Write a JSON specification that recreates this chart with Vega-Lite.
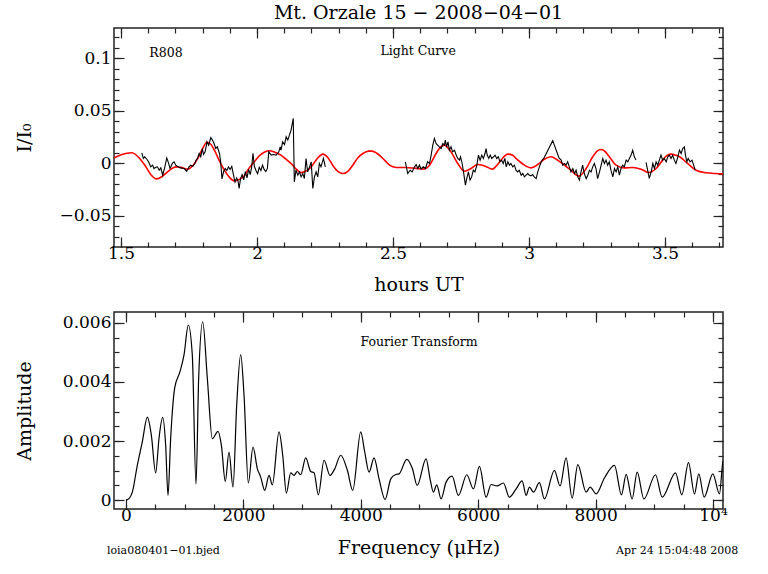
{
  "$schema": "https://vega.github.io/schema/vega-lite/v6.json",
  "padding": {"left": 14, "top": 3, "right": 10, "bottom": 10},
  "bounds": "flush",
  "spacing": 65,
  "config": {
    "font": "DejaVu Serif",
    "axis": {"labelFont": "DejaVu Serif", "labelFontSize": 17, "labelColor": "#000", "titleFont": "DejaVu Serif", "titleFontSize": 19, "titleFontWeight": "normal", "titleColor": "#000", "tickColor": "#222", "tickWidth": 1.2, "domain": false, "grid": false, "labelFlush": false, "labelOverlap": false},
    "view": {"stroke": "#222", "strokeWidth": 1.5},
    "text": {"font": "DejaVu Serif", "fontSize": 12.5, "color": "#000"}
  },
  "datasets": {
    "fit": [
      {"h":1.474,"v":0.0050},{"h":1.500,"v":0.0080},{"h":1.540,"v":0.0100},{"h":1.570,"v":0.0040},{"h":1.590,"v":-0.0030},{"h":1.610,"v":-0.0110},{"h":1.630,"v":-0.0150},{"h":1.650,"v":-0.0130},{"h":1.672,"v":-0.0080},{"h":1.702,"v":-0.0035},{"h":1.720,"v":-0.0040},{"h":1.745,"v":-0.0058},{"h":1.765,"v":-0.0020},{"h":1.782,"v":0.0045},{"h":1.800,"v":0.0140},{"h":1.815,"v":0.0200},{"h":1.830,"v":0.0180},{"h":1.843,"v":0.0124},{"h":1.862,"v":0.0020},{"h":1.880,"v":-0.0067},{"h":1.900,"v":-0.0140},{"h":1.917,"v":-0.0169},{"h":1.935,"v":-0.0155},{"h":1.953,"v":-0.0120},{"h":1.970,"v":-0.0050},{"h":1.990,"v":0.0013},{"h":2.010,"v":0.0075},{"h":2.030,"v":0.0110},{"h":2.045,"v":0.0118},{"h":2.065,"v":0.0105},{"h":2.088,"v":0.0076},{"h":2.105,"v":0.0040},{"h":2.125,"v":-0.0003},{"h":2.145,"v":-0.0060},{"h":2.162,"v":-0.0090},{"h":2.180,"v":-0.0075},{"h":2.199,"v":-0.0035},{"h":2.220,"v":0.0040},{"h":2.242,"v":0.0086},{"h":2.260,"v":0.0055},{"h":2.278,"v":-0.0019},{"h":2.298,"v":-0.0080},{"h":2.315,"v":-0.0099},{"h":2.335,"v":-0.0075},{"h":2.352,"v":-0.0019},{"h":2.370,"v":0.0050},{"h":2.389,"v":0.0092},{"h":2.410,"v":0.0115},{"h":2.423,"v":0.0115},{"h":2.440,"v":0.0095},{"h":2.456,"v":0.0061},{"h":2.472,"v":0.0020},{"h":2.487,"v":-0.0019},{"h":2.511,"v":-0.0041},{"h":2.548,"v":-0.0041},{"h":2.585,"v":-0.0050},{"h":2.615,"v":-0.0055},{"h":2.634,"v":-0.0019},{"h":2.658,"v":0.0092},{"h":2.675,"v":0.0155},{"h":2.689,"v":0.0172},{"h":2.700,"v":0.0150},{"h":2.713,"v":0.0108},{"h":2.738,"v":-0.0003},{"h":2.762,"v":-0.0077},{"h":2.787,"v":-0.0051},{"h":2.811,"v":-0.0013},{"h":2.836,"v":-0.0026},{"h":2.866,"v":-0.0057},{"h":2.885,"v":-0.0010},{"h":2.897,"v":0.0029},{"h":2.922,"v":0.0086},{"h":2.940,"v":0.0075},{"h":2.952,"v":0.0045},{"h":2.983,"v":-0.0019},{"h":3.007,"v":-0.0045},{"h":3.032,"v":-0.0013},{"h":3.056,"v":0.0038},{"h":3.081,"v":0.0061},{"h":3.105,"v":0.0029},{"h":3.130,"v":-0.0019},{"h":3.154,"v":-0.0067},{"h":3.183,"v":-0.0124},{"h":3.210,"v":-0.0051},{"h":3.234,"v":0.0061},{"h":3.250,"v":0.0115},{"h":3.265,"v":0.0131},{"h":3.280,"v":0.0110},{"h":3.295,"v":0.0061},{"h":3.320,"v":-0.0019},{"h":3.350,"v":-0.0045},{"h":3.381,"v":-0.0041},{"h":3.412,"v":-0.0057},{"h":3.440,"v":-0.0089},{"h":3.467,"v":-0.0051},{"h":3.491,"v":0.0029},{"h":3.505,"v":0.0070},{"h":3.522,"v":0.0086},{"h":3.540,"v":0.0075},{"h":3.553,"v":0.0061},{"h":3.583,"v":-0.0003},{"h":3.614,"v":-0.0067},{"h":3.651,"v":-0.0092},{"h":3.687,"v":-0.0099},{"h":3.713,"v":-0.0102}
    ],
    "lc": [
      {"seg":1,"h":1.576,"v":0.0099},{"seg":1,"h":1.582,"v":0.0045},{"seg":1,"h":1.587,"v":0.0061},{"seg":1,"h":1.594,"v":0.0040},{"seg":1,"h":1.601,"v":0.0013},{"seg":1,"h":1.609,"v":-0.0035},{"seg":1,"h":1.616,"v":-0.0019},{"seg":1,"h":1.621,"v":-0.0051},{"seg":1,"h":1.626,"v":-0.0041},{"seg":1,"h":1.634,"v":-0.0035},{"seg":1,"h":1.640,"v":-0.0067},{"seg":1,"h":1.646,"v":-0.0045},{"seg":1,"h":1.653,"v":-0.0115},{"seg":1,"h":1.661,"v":-0.0035},{"seg":1,"h":1.668,"v":0.0050},{"seg":1,"h":1.674,"v":0.0006},{"seg":1,"h":1.680,"v":-0.0051},{"seg":1,"h":1.689,"v":0.0000},{"seg":1,"h":1.695,"v":0.0013},{"seg":1,"h":1.701,"v":-0.0019},{"seg":1,"h":1.710,"v":-0.0035},{"seg":1,"h":1.719,"v":-0.0045},{"seg":1,"h":1.732,"v":-0.0051},{"seg":1,"h":1.741,"v":-0.0077},{"seg":1,"h":1.750,"v":-0.0035},{"seg":1,"h":1.756,"v":-0.0019},{"seg":1,"h":1.764,"v":-0.0029},{"seg":1,"h":1.771,"v":-0.0003},{"seg":1,"h":1.776,"v":0.0029},{"seg":1,"h":1.781,"v":0.0045},{"seg":1,"h":1.787,"v":0.0092},{"seg":1,"h":1.793,"v":0.0061},{"seg":1,"h":1.799,"v":0.0140},{"seg":1,"h":1.803,"v":0.0083},{"seg":1,"h":1.809,"v":0.0108},{"seg":1,"h":1.816,"v":0.0204},{"seg":1,"h":1.822,"v":0.0172},{"seg":1,"h":1.830,"v":0.0245},{"seg":1,"h":1.836,"v":0.0220},{"seg":1,"h":1.842,"v":0.0188},{"seg":1,"h":1.848,"v":0.0140},{"seg":1,"h":1.854,"v":0.0156},{"seg":1,"h":1.862,"v":0.0092},{"seg":1,"h":1.866,"v":0.0013},{"seg":1,"h":1.871,"v":-0.0150},{"seg":1,"h":1.877,"v":-0.0080},{"seg":1,"h":1.883,"v":-0.0050},{"seg":1,"h":1.889,"v":-0.0070},{"seg":1,"h":1.895,"v":-0.0035},{"seg":1,"h":1.901,"v":-0.0060},{"seg":1,"h":1.907,"v":-0.0030},{"seg":1,"h":1.913,"v":-0.0110},{"seg":1,"h":1.919,"v":-0.0180},{"seg":1,"h":1.925,"v":-0.0140},{"seg":1,"h":1.930,"v":-0.0170},{"seg":1,"h":1.934,"v":-0.0240},{"seg":1,"h":1.939,"v":-0.0150},{"seg":1,"h":1.945,"v":-0.0110},{"seg":1,"h":1.951,"v":-0.0160},{"seg":1,"h":1.957,"v":-0.0080},{"seg":1,"h":1.963,"v":-0.0140},{"seg":1,"h":1.969,"v":-0.0060},{"seg":1,"h":1.975,"v":-0.0110},{"seg":1,"h":1.980,"v":-0.0040},{"seg":1,"h":1.985,"v":0.0095},{"seg":1,"h":1.990,"v":-0.0030},{"seg":1,"h":1.996,"v":-0.0070},{"seg":1,"h":2.002,"v":-0.0100},{"seg":1,"h":2.008,"v":-0.0040},{"seg":1,"h":2.014,"v":-0.0070},{"seg":1,"h":2.020,"v":-0.0020},{"seg":1,"h":2.026,"v":-0.0060},{"seg":1,"h":2.032,"v":-0.0080},{"seg":1,"h":2.038,"v":-0.0050},{"seg":1,"h":2.043,"v":0.0108},{"seg":1,"h":2.052,"v":0.0077},{"seg":1,"h":2.060,"v":0.0083},{"seg":1,"h":2.070,"v":0.0077},{"seg":1,"h":2.080,"v":0.0108},{"seg":1,"h":2.085,"v":0.0156},{"seg":1,"h":2.088,"v":0.0124},{"seg":1,"h":2.094,"v":0.0204},{"seg":1,"h":2.101,"v":0.0178},{"seg":1,"h":2.107,"v":0.0252},{"seg":1,"h":2.113,"v":0.0220},{"seg":1,"h":2.119,"v":0.0268},{"seg":1,"h":2.125,"v":0.0316},{"seg":1,"h":2.133,"v":0.0427},{"seg":1,"h":2.137,"v":-0.0178},{"seg":1,"h":2.143,"v":-0.0067},{"seg":1,"h":2.150,"v":-0.0115},{"seg":1,"h":2.156,"v":-0.0083},{"seg":1,"h":2.162,"v":-0.0131},{"seg":1,"h":2.168,"v":-0.0099},{"seg":1,"h":2.174,"v":-0.0147},{"seg":1,"h":2.180,"v":0.0045},{"seg":1,"h":2.186,"v":-0.0083},{"seg":1,"h":2.193,"v":-0.0035},{"seg":1,"h":2.199,"v":0.0013},{"seg":1,"h":2.205,"v":-0.0242},{"seg":1,"h":2.211,"v":-0.0131},{"seg":1,"h":2.217,"v":-0.0083},{"seg":1,"h":2.223,"v":-0.0131},{"seg":1,"h":2.229,"v":-0.0003},{"seg":1,"h":2.235,"v":-0.0035},{"seg":1,"h":2.244,"v":0.0045},{"seg":1,"h":2.251,"v":-0.0035},
      {"seg":2,"h":2.545,"v":0.0013},{"seg":2,"h":2.554,"v":-0.0099},{"seg":2,"h":2.563,"v":-0.0067},{"seg":2,"h":2.570,"v":-0.0083},{"seg":2,"h":2.579,"v":-0.0035},{"seg":2,"h":2.585,"v":-0.0013},{"seg":2,"h":2.591,"v":-0.0051},{"seg":2,"h":2.597,"v":-0.0019},{"seg":2,"h":2.603,"v":-0.0055},{"seg":2,"h":2.611,"v":-0.0035},{"seg":2,"h":2.619,"v":-0.0051},{"seg":2,"h":2.627,"v":0.0013},{"seg":2,"h":2.634,"v":-0.0003},{"seg":2,"h":2.640,"v":0.0077},{"seg":2,"h":2.646,"v":0.0172},{"seg":2,"h":2.652,"v":0.0236},{"seg":2,"h":2.658,"v":0.0188},{"seg":2,"h":2.664,"v":0.0172},{"seg":2,"h":2.670,"v":0.0156},{"seg":2,"h":2.677,"v":0.0140},{"seg":2,"h":2.683,"v":0.0188},{"seg":2,"h":2.689,"v":0.0172},{"seg":2,"h":2.692,"v":0.0220},{"seg":2,"h":2.697,"v":0.0156},{"seg":2,"h":2.702,"v":0.0204},{"seg":2,"h":2.707,"v":0.0124},{"seg":2,"h":2.713,"v":0.0156},{"seg":2,"h":2.719,"v":0.0108},{"seg":2,"h":2.726,"v":0.0124},{"seg":2,"h":2.732,"v":0.0077},{"seg":2,"h":2.738,"v":0.0045},{"seg":2,"h":2.744,"v":0.0029},{"seg":2,"h":2.748,"v":0.0061},{"seg":2,"h":2.754,"v":-0.0003},{"seg":2,"h":2.759,"v":-0.0083},{"seg":2,"h":2.766,"v":-0.0210},{"seg":2,"h":2.771,"v":-0.0146},{"seg":2,"h":2.777,"v":-0.0083},{"seg":2,"h":2.783,"v":-0.0162},{"seg":2,"h":2.789,"v":-0.0131},{"seg":2,"h":2.795,"v":-0.0067},{"seg":2,"h":2.801,"v":-0.0083},{"seg":2,"h":2.808,"v":-0.0019},{"seg":2,"h":2.814,"v":0.0077},{"seg":2,"h":2.820,"v":0.0029},{"seg":2,"h":2.826,"v":0.0077},{"seg":2,"h":2.832,"v":0.0045},{"seg":2,"h":2.838,"v":0.0092},{"seg":2,"h":2.842,"v":0.0140},{"seg":2,"h":2.846,"v":0.0077},{"seg":2,"h":2.852,"v":0.0045},{"seg":2,"h":2.857,"v":0.0077},{"seg":2,"h":2.863,"v":0.0045},{"seg":2,"h":2.869,"v":0.0061},{"seg":2,"h":2.875,"v":0.0077},{"seg":2,"h":2.881,"v":0.0045},{"seg":2,"h":2.887,"v":0.0061},{"seg":2,"h":2.893,"v":0.0013},{"seg":2,"h":2.899,"v":0.0029},{"seg":2,"h":2.905,"v":-0.0003},{"seg":2,"h":2.911,"v":0.0045},{"seg":2,"h":2.916,"v":-0.0035},{"seg":2,"h":2.922,"v":0.0013},{"seg":2,"h":2.928,"v":-0.0019},{"seg":2,"h":2.933,"v":-0.0003},{"seg":2,"h":2.940,"v":-0.0035},{"seg":2,"h":2.946,"v":-0.0019},{"seg":2,"h":2.952,"v":-0.0067},{"seg":2,"h":2.958,"v":-0.0083},{"seg":2,"h":2.964,"v":-0.0067},{"seg":2,"h":2.971,"v":-0.0115},{"seg":2,"h":2.977,"v":-0.0099},{"seg":2,"h":2.983,"v":-0.0131},{"seg":2,"h":2.989,"v":-0.0115},{"seg":2,"h":2.995,"v":-0.0099},{"seg":2,"h":3.001,"v":-0.0115},{"seg":2,"h":3.007,"v":-0.0121},{"seg":2,"h":3.013,"v":-0.0108},{"seg":2,"h":3.019,"v":-0.0131},{"seg":2,"h":3.026,"v":-0.0147},{"seg":2,"h":3.032,"v":-0.0083},{"seg":2,"h":3.040,"v":-0.0019},{"seg":2,"h":3.048,"v":0.0029},{"seg":2,"h":3.054,"v":0.0045},{"seg":2,"h":3.087,"v":0.0215},{"seg":2,"h":3.110,"v":0.0050},{"seg":2,"h":3.118,"v":0.0029},{"seg":2,"h":3.124,"v":-0.0019},{"seg":2,"h":3.130,"v":-0.0003},{"seg":2,"h":3.136,"v":-0.0019},{"seg":2,"h":3.142,"v":0.0013},{"seg":2,"h":3.148,"v":-0.0035},{"seg":2,"h":3.154,"v":-0.0083},{"seg":2,"h":3.161,"v":-0.0051},{"seg":2,"h":3.167,"v":-0.0099},{"seg":2,"h":3.173,"v":-0.0067},{"seg":2,"h":3.179,"v":-0.0131},{"seg":2,"h":3.185,"v":-0.0162},{"seg":2,"h":3.191,"v":-0.0083},{"seg":2,"h":3.197,"v":-0.0019},{"seg":2,"h":3.203,"v":-0.0099},{"seg":2,"h":3.210,"v":-0.0147},{"seg":2,"h":3.216,"v":-0.0115},{"seg":2,"h":3.222,"v":-0.0067},{"seg":2,"h":3.228,"v":-0.0083},{"seg":2,"h":3.234,"v":-0.0035},{"seg":2,"h":3.240,"v":-0.0003},{"seg":2,"h":3.246,"v":-0.0051},{"seg":2,"h":3.252,"v":-0.0147},{"seg":2,"h":3.259,"v":-0.0083},{"seg":2,"h":3.265,"v":-0.0019},{"seg":2,"h":3.271,"v":0.0045},{"seg":2,"h":3.277,"v":-0.0003},{"seg":2,"h":3.283,"v":0.0029},{"seg":2,"h":3.289,"v":-0.0019},{"seg":2,"h":3.295,"v":0.0013},{"seg":2,"h":3.301,"v":-0.0067},{"seg":2,"h":3.308,"v":-0.0131},{"seg":2,"h":3.314,"v":-0.0051},{"seg":2,"h":3.320,"v":-0.0083},{"seg":2,"h":3.326,"v":-0.0035},{"seg":2,"h":3.332,"v":-0.0115},{"seg":2,"h":3.338,"v":-0.0051},{"seg":2,"h":3.344,"v":-0.0019},{"seg":2,"h":3.350,"v":-0.0035},{"seg":2,"h":3.357,"v":0.0029},{"seg":2,"h":3.363,"v":0.0013},{"seg":2,"h":3.369,"v":0.0045},{"seg":2,"h":3.375,"v":0.0077},{"seg":2,"h":3.381,"v":0.0124},{"seg":2,"h":3.387,"v":0.0061},{"seg":2,"h":3.393,"v":0.0029},
      {"seg":3,"h":3.430,"v":0.0007},{"seg":3,"h":3.436,"v":-0.0067},{"seg":3,"h":3.442,"v":-0.0146},{"seg":3,"h":3.449,"v":-0.0083},{"seg":3,"h":3.455,"v":-0.0003},{"seg":3,"h":3.461,"v":-0.0051},{"seg":3,"h":3.467,"v":0.0013},{"seg":3,"h":3.473,"v":-0.0019},{"seg":3,"h":3.479,"v":0.0029},{"seg":3,"h":3.485,"v":0.0077},{"seg":3,"h":3.491,"v":0.0029},{"seg":3,"h":3.497,"v":0.0045},{"seg":3,"h":3.504,"v":0.0013},{"seg":3,"h":3.510,"v":0.0061},{"seg":3,"h":3.516,"v":0.0077},{"seg":3,"h":3.522,"v":0.0045},{"seg":3,"h":3.528,"v":0.0077},{"seg":3,"h":3.534,"v":0.0029},{"seg":3,"h":3.540,"v":-0.0003},{"seg":3,"h":3.547,"v":0.0061},{"seg":3,"h":3.553,"v":0.0124},{"seg":3,"h":3.559,"v":0.0092},{"seg":3,"h":3.565,"v":0.0140},{"seg":3,"h":3.571,"v":0.0156},{"seg":3,"h":3.575,"v":0.0077},{"seg":3,"h":3.580,"v":0.0013},{"seg":3,"h":3.585,"v":0.0045},{"seg":3,"h":3.592,"v":0.0013},{"seg":3,"h":3.599,"v":0.0029},{"seg":3,"h":3.605,"v":-0.0019},{"seg":3,"h":3.611,"v":-0.0067}
    ],
    "ft": [
      {"f":0,"a":0.0},{"f":51,"a":0.00005},{"f":108,"a":0.00027},{"f":193,"a":0.00118},{"f":278,"a":0.00197},{"f":364,"a":0.00281},{"f":432,"a":0.0022},{"f":506,"a":0.00092},{"f":562,"a":0.00208},{"f":625,"a":0.0028},{"f":676,"a":0.00186},{"f":716,"a":0.00016},{"f":761,"a":0.00208},{"f":830,"a":0.0038},{"f":920,"a":0.00435},{"f":988,"a":0.00491},{"f":1062,"a":0.00593},{"f":1130,"a":0.00491},{"f":1193,"a":0.00055},{"f":1238,"a":0.00412},{"f":1307,"a":0.00604},{"f":1386,"a":0.00412},{"f":1471,"a":0.00208},{"f":1568,"a":0.00233},{"f":1625,"a":0.00186},{"f":1692,"a":0.00063},{"f":1755,"a":0.00163},{"f":1823,"a":0.00044},{"f":1886,"a":0.00321},{"f":1954,"a":0.00493},{"f":2011,"a":0.00355},{"f":2084,"a":0.00058},{"f":2164,"a":0.0018},{"f":2238,"a":0.00106},{"f":2295,"a":0.00078},{"f":2363,"a":0.00033},{"f":2437,"a":0.00084},{"f":2493,"a":0.00052},{"f":2607,"a":0.00231},{"f":2670,"a":0.00152},{"f":2732,"a":0.00024},{"f":2806,"a":0.00092},{"f":2863,"a":0.00084},{"f":2919,"a":0.00097},{"f":2976,"a":0.00086},{"f":3062,"a":0.00143},{"f":3147,"a":0.00097},{"f":3204,"a":0.00093},{"f":3277,"a":0.00018},{"f":3374,"a":0.00135},{"f":3476,"a":0.00084},{"f":3556,"a":0.00106},{"f":3658,"a":0.00152},{"f":3771,"a":0.00101},{"f":3863,"a":0.00033},{"f":3999,"a":0.00231},{"f":4067,"a":0.00163},{"f":4141,"a":0.00095},{"f":4226,"a":0.00143},{"f":4311,"a":0.00072},{"f":4414,"a":0.00002},{"f":4510,"a":0.00072},{"f":4596,"a":0.00087},{"f":4652,"a":0.00089},{"f":4783,"a":0.00138},{"f":4880,"a":0.00106},{"f":4960,"a":0.0005},{"f":5112,"a":0.0014},{"f":5180,"a":0.00072},{"f":5237,"a":0.00027},{"f":5294,"a":0.00052},{"f":5368,"a":0.00004},{"f":5453,"a":0.00061},{"f":5555,"a":0.00081},{"f":5663,"a":0.00016},{"f":5806,"a":0.00086},{"f":5919,"a":0.00038},{"f":6021,"a":0.00114},{"f":6135,"a":0.0001},{"f":6220,"a":0.00053},{"f":6320,"a":0.00048},{"f":6429,"a":0.00058},{"f":6531,"a":0.0001},{"f":6646,"a":0.00038},{"f":6748,"a":0.00065},{"f":6816,"a":0.00016},{"f":6873,"a":0.00044},{"f":6941,"a":0.00027},{"f":7043,"a":0.00059},{"f":7128,"a":0.00004},{"f":7298,"a":0.00101},{"f":7395,"a":0.00048},{"f":7497,"a":0.00143},{"f":7600,"a":0.00007},{"f":7697,"a":0.0012},{"f":7838,"a":0.00027},{"f":7907,"a":0.00044},{"f":8009,"a":0.00021},{"f":8150,"a":0.00075},{"f":8321,"a":0.00118},{"f":8441,"a":0.00018},{"f":8520,"a":0.00087},{"f":8622,"a":0.00004},{"f":8708,"a":0.00095},{"f":8822,"a":0.00004},{"f":9020,"a":0.00086},{"f":9134,"a":0.0001},{"f":9361,"a":0.00092},{"f":9469,"a":0.00018},{"f":9582,"a":0.00127},{"f":9684,"a":0.00021},{"f":9758,"a":0.00089},{"f":9849,"a":0.0001},{"f":9997,"a":0.00089},{"f":10110,"a":0.00021},{"f":10168,"a":0.00129},{"f":10230,"a":0.0015}
    ]
  },
  "vconcat": [
    {
      "width": 609,
      "height": 219,
      "title": {"text": "Mt. Orzale 15 − 2008−04−01", "frame": "group", "anchor": "middle", "font": "DejaVu Serif", "fontSize": 19, "fontWeight": "normal", "color": "#000", "offset": 4},
      "layer": [
        {
          "data": {"name": "fit"},
          "mark": {"type": "line", "color": "#ff0000", "strokeWidth": 1.6, "clip": true, "interpolate": "monotone"},
          "encoding": {
            "x": {"field": "h", "type": "quantitative", "scale": {"domain": [1.474, 3.713], "nice": false, "zero": false},
                  "axis": {"orient": "bottom", "values": [1.5, 2, 2.5, 3, 3.5], "format": "~g", "title": "hours UT", "tickSize": -10, "labelPadding": 8, "titleY": 28}},
            "y": {"field": "v", "type": "quantitative", "scale": {"domain": [-0.08, 0.129], "nice": false, "zero": false},
                  "axis": {"orient": "left", "values": [-0.05, 0, 0.05, 0.1], "format": ".2~f", "title": "I/I₀", "tickSize": -10, "labelPadding": 13, "titleX": -80}}
          }
        },
        {
          "data": {"name": "lc"},
          "mark": {"type": "line", "color": "#000", "strokeWidth": 1.1, "clip": true},
          "encoding": {
            "x": {"field": "h", "type": "quantitative", "scale": {"domain": [1.474, 3.713], "nice": false, "zero": false},
                  "axis": {"orient": "top", "values": [1.5, 2, 2.5, 3, 3.5], "labels": false, "title": null, "tickSize": -10}},
            "y": {"field": "v", "type": "quantitative", "scale": {"domain": [-0.08, 0.129], "nice": false, "zero": false},
                  "axis": {"orient": "right", "values": [-0.05, 0, 0.05, 0.1], "labels": false, "title": null, "tickSize": -10}},
            "detail": {"field": "seg"}
          }
        },
        {
          "data": {"values": [{"label": "R808"}]},
          "mark": {"type": "text", "align": "center", "baseline": "middle"},
          "encoding": {
            "text": {"field": "label"},
            "x": {"datum": 1.665, "type": "quantitative", "scale": {"domain": [1.474, 3.713], "nice": false, "zero": false},
                  "axis": {"orient": "bottom", "values": [1.5,1.6,1.7,1.8,1.9,2.0,2.1,2.2,2.3,2.4,2.5,2.6,2.7,2.8,2.9,3.0,3.1,3.2,3.3,3.4,3.5,3.6,3.7], "labels": false, "title": null, "tickSize": -5}},
            "y": {"datum": 0.105, "type": "quantitative", "scale": {"domain": [-0.08, 0.129], "nice": false, "zero": false},
                  "axis": {"orient": "left", "values": [-0.07,-0.06,-0.05,-0.04,-0.03,-0.02,-0.01,0,0.01,0.02,0.03,0.04,0.05,0.06,0.07,0.08,0.09,0.1,0.11,0.12], "labels": false, "title": null, "tickSize": -5}}
          }
        },
        {
          "data": {"values": [{"label": "Light Curve"}]},
          "mark": {"type": "text", "align": "center", "baseline": "middle"},
          "encoding": {
            "text": {"field": "label"},
            "x": {"datum": 2.592, "type": "quantitative", "scale": {"domain": [1.474, 3.713], "nice": false, "zero": false},
                  "axis": {"orient": "top", "values": [1.5,1.6,1.7,1.8,1.9,2.0,2.1,2.2,2.3,2.4,2.5,2.6,2.7,2.8,2.9,3.0,3.1,3.2,3.3,3.4,3.5,3.6,3.7], "labels": false, "title": null, "tickSize": -5}},
            "y": {"datum": 0.107, "type": "quantitative", "scale": {"domain": [-0.08, 0.129], "nice": false, "zero": false},
                  "axis": {"orient": "right", "values": [-0.07,-0.06,-0.05,-0.04,-0.03,-0.02,-0.01,0,0.01,0.02,0.03,0.04,0.05,0.06,0.07,0.08,0.09,0.1,0.11,0.12], "labels": false, "title": null, "tickSize": -5}}
          }
        }
      ],
      "resolve": {"axis": {"x": "independent", "y": "independent"}}
    },
    {
      "width": 609,
      "height": 197,
      "layer": [
        {
          "data": {"name": "ft"},
          "mark": {"type": "line", "color": "#000", "strokeWidth": 1.2, "clip": true, "interpolate": "monotone"},
          "encoding": {
            "x": {"field": "f", "type": "quantitative", "scale": {"domain": [-204, 10170], "nice": false, "zero": false},
                  "axis": {"orient": "bottom", "values": [0, 2000, 4000, 6000, 8000, 10000], "format": "d", "labelExpr": "datum.value == 10000 ? '10⁴' : datum.label", "title": "Frequency (μHz)", "tickSize": -10, "labelPadding": 8, "titleY": 29}},
            "y": {"field": "a", "type": "quantitative", "scale": {"domain": [-0.0003, 0.00637], "nice": false, "zero": false},
                  "axis": {"orient": "left", "values": [0, 0.002, 0.004, 0.006], "format": ".3~f", "title": "Amplitude", "tickSize": -10, "labelPadding": 13, "titleX": -80}}
          }
        },
        {
          "data": {"values": [{"label": "Fourier Transform"}]},
          "mark": {"type": "text", "align": "center", "baseline": "middle"},
          "encoding": {
            "text": {"field": "label"},
            "x": {"datum": 4993, "type": "quantitative", "scale": {"domain": [-204, 10170], "nice": false, "zero": false},
                  "axis": {"orient": "top", "values": [0, 2000, 4000, 6000, 8000, 10000], "labels": false, "title": null, "tickSize": -10}},
            "y": {"datum": 0.00537, "type": "quantitative", "scale": {"domain": [-0.0003, 0.00637], "nice": false, "zero": false},
                  "axis": {"orient": "right", "values": [0, 0.002, 0.004, 0.006], "labels": false, "title": null, "tickSize": -10}}
          }
        },
        {
          "data": {"values": [{"label": "loia080401−01.bjed"}]},
          "mark": {"type": "text", "align": "left", "baseline": "middle", "fontSize": 11},
          "encoding": {
            "text": {"field": "label"},
            "x": {"datum": -324, "type": "quantitative", "scale": {"domain": [-204, 10170], "nice": false, "zero": false},
                  "axis": {"orient": "bottom", "values": [0,500,1000,1500,2000,2500,3000,3500,4000,4500,5000,5500,6000,6500,7000,7500,8000,8500,9000,9500,10000], "labels": false, "title": null, "tickSize": -5}},
            "y": {"datum": -0.00173, "type": "quantitative", "scale": {"domain": [-0.0003, 0.00637], "nice": false, "zero": false},
                  "axis": {"orient": "left", "values": [0,0.0005,0.001,0.0015,0.002,0.0025,0.003,0.0035,0.004,0.0045,0.005,0.0055,0.006], "labels": false, "title": null, "tickSize": -5}}
          }
        },
        {
          "data": {"values": [{"label": "Apr 24 15:04:48 2008"}]},
          "mark": {"type": "text", "align": "right", "baseline": "middle", "fontSize": 11},
          "encoding": {
            "text": {"field": "label"},
            "x": {"datum": 10428, "type": "quantitative", "scale": {"domain": [-204, 10170], "nice": false, "zero": false},
                  "axis": {"orient": "top", "values": [0,500,1000,1500,2000,2500,3000,3500,4000,4500,5000,5500,6000,6500,7000,7500,8000,8500,9000,9500,10000], "labels": false, "title": null, "tickSize": -5}},
            "y": {"datum": -0.00173, "type": "quantitative", "scale": {"domain": [-0.0003, 0.00637], "nice": false, "zero": false},
                  "axis": {"orient": "right", "values": [0,0.0005,0.001,0.0015,0.002,0.0025,0.003,0.0035,0.004,0.0045,0.005,0.0055,0.006], "labels": false, "title": null, "tickSize": -5}}
          }
        }
      ],
      "resolve": {"axis": {"x": "independent", "y": "independent"}}
    }
  ]
}
